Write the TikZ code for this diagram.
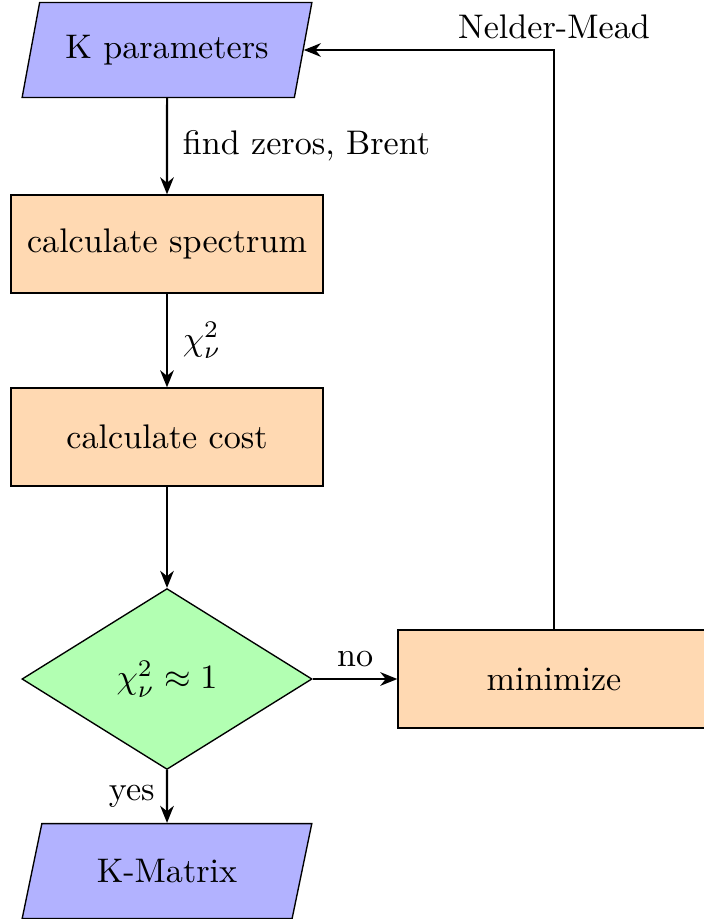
\documentclass[tikz,border=0pt]{standalone}
\usetikzlibrary{shapes.geometric,arrows.meta}
\begin{document}
\begin{tikzpicture}[x=0.293pt,y=-0.293pt,
  io/.style={trapezium, trapezium left angle=65, trapezium right angle=115,
    trapezium stretches=true, draw, fill=blue!30, minimum width=85.3pt,
    minimum height=27.8pt, inner sep=0pt},
  proc/.style={rectangle, draw, fill=orange!30, minimum width=91.4pt,
    minimum height=28.7pt, inner sep=0pt},
  decide/.style={diamond, draw, fill=green!30, minimum width=85pt,
    minimum height=53pt, inner sep=0pt},
  flow/.style={semithick, -{Stealth[length=5pt,width=4pt,inset=1.6pt]}}]
  \useasboundingbox (0,0) rectangle (703,919);

  % main column
  \node[io]     (kp)   at (167,50)  {K parameters};
  \node[proc]   (spec) at (167,244) {calculate spectrum};
  \node[proc]   (cost) at (167,437) {calculate cost};
  \node[decide] (test) at (167,679) {$\chi^2_\nu \approx 1$};
  \node[io]     (km)   at (167,871) {K-Matrix};
  % side branch
  \node[proc]   (min)  at (554,679) {minimize};

  % connectors
  \draw[flow] (kp) -- node[right, xshift=1pt] {find zeros, Brent} (spec);
  \draw[flow] (spec) -- node[right, xshift=1pt] {$\chi^2_\nu$} (cost);
  \draw[flow] (cost) -- (test);
  \draw[flow] (test) -- node[left] {yes} (km);
  \draw[flow] (test) -- node[above] {no} (min);
  \draw[flow] (min.north) |- node[pos=0.5, above, yshift=-0.5pt] {Nelder-Mead} (kp);
\end{tikzpicture}
\end{document}
